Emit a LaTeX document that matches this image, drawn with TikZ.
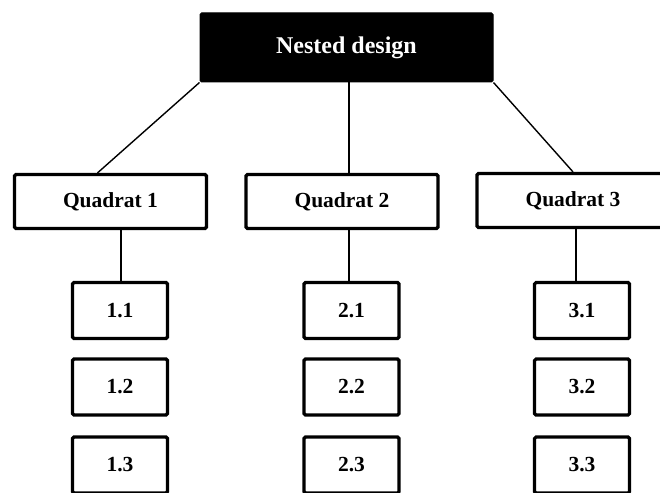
\documentclass[tikz,border=0pt]{standalone}
\usepackage{fontspec}
\setmainfont{Liberation Serif}
\usetikzlibrary{calc}
\begin{document}
\begin{tikzpicture}[x=1pt,y=-1pt,
  headbox/.style={draw=black,fill=black,text=white,line width=1pt,rounded corners=1.5pt,
    minimum width=293pt,minimum height=69pt,inner sep=0pt,font=\bfseries\fontsize{24}{28}\selectfont},
  quadbox/.style={draw=black,line width=3.2pt,rounded corners=1.5pt,
    minimum width=192pt,minimum height=54pt,inner sep=0pt,font=\bfseries\fontsize{21.5}{25}\selectfont},
  subbox/.style={draw=black,line width=3.2pt,rounded corners=1.5pt,
    minimum width=95pt,minimum height=56pt,inner sep=0pt,font=\bfseries\fontsize{21.5}{25}\selectfont},
  link/.style={draw=black,line width=1.4pt}]
\useasboundingbox (0,0) rectangle (660,492);
\clip (0,0) rectangle (660,492);

% root of the hierarchy
\node[headbox] (top) at (346.5,47.5) {Nested design};

% quadrats
\node[quadbox] (q1) at (110.5,201.5) {Quadrat 1};
\node[quadbox] (q2) at (342,201.5) {Quadrat 2};
\node[quadbox] (q3) at (573,200.5) {Quadrat 3};

% samples within each quadrat
\node[subbox] (a1) at (120,310.5) {1.1};
\node[subbox] (a2) at (120,387) {1.2};
\node[subbox] (a3) at (120,465) {1.3};
\node[subbox] (b1) at (351.5,310.5) {2.1};
\node[subbox] (b2) at (351.5,387) {2.2};
\node[subbox] (b3) at (351.5,465) {2.3};
\node[subbox] (c1) at (582,310.5) {3.1};
\node[subbox] (c2) at (582,387) {3.2};
\node[subbox] (c3) at (582,465) {3.3};

% anchor points of the connectors
\coordinate (e1) at ($(q1.north)+(-13,0)$);
\coordinate (t2) at ($(top.south)+(2.5,0)$);
\coordinate (v1) at ($(a1.north)+(1,0)$);
\coordinate (v2) at ($(b1.north)+(-2.5,0)$);
\coordinate (v3) at ($(c1.north)+(-6,0)$);

% connectors
\draw[link] (top.south west) -- (e1);
\draw[link] (t2) -- (t2 |- q2.north);
\draw[link] (top.south east) -- (q3.north);
\draw[link] (v1) -- (v1 |- q1.south);
\draw[link] (v2) -- (v2 |- q2.south);
\draw[link] (v3) -- (v3 |- q3.south);
\end{tikzpicture}
\end{document}
